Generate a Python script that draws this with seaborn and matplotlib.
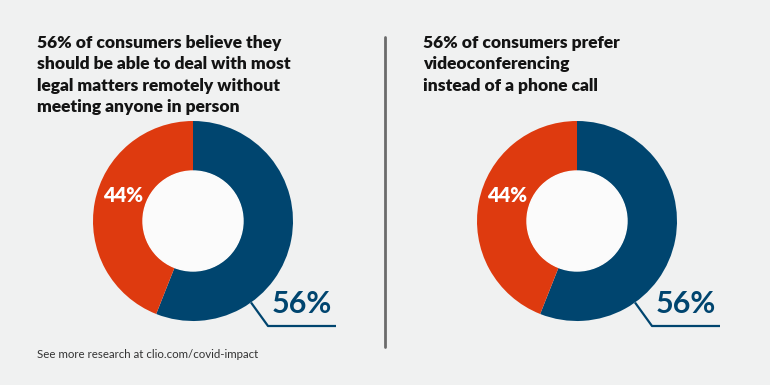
import matplotlib
matplotlib.use("Agg")
import matplotlib.pyplot as plt
import seaborn as sns
from matplotlib.patches import Circle

# survey shares (percent) for each donut
titles = [
    "56% of consumers believe they\nshould be able to deal with most\nlegal matters remotely without\nmeeting anyone in person",
    "56% of consumers prefer\nvideoconferencing\ninstead of a phone call",
]
share_yes = [56, 56]
share_no = [44, 44]
footer = "See more research at clio.com/covid-impact"

BG = "#f0f1f1"
BLUE = "#00456f"
ORANGE = "#de3a0f"

sns.set_theme(style="white")
plt.rcParams["font.family"] = ["Lato", "DejaVu Sans"]

fig = plt.figure(figsize=(7.7, 3.85), dpi=100, facecolor=BG)
W, H = 770, 385

centers = [(193, 221), (577, 221)]
title_x = [37, 423]
palette = sns.color_palette([BLUE, ORANGE])

for i, (cx, cy) in enumerate(centers):
    ax = fig.add_axes([(cx - 100) / W, (H - cy - 100) / H, 200 / W, 200 / H])
    ax.set_facecolor("none")
    ax.pie([share_yes[i], share_no[i]], colors=palette, startangle=90,
           counterclock=False, radius=1.0,
           wedgeprops=dict(width=0.5, linewidth=0))
    ax.add_patch(Circle((0, 0), 0.5, color="#fbfbfb", zorder=3))
    ax.set_xlim(-1, 1)
    ax.set_ylim(-1, 1)
    ax.set_aspect("equal")
    ax.axis("off")

    ax.text(-0.70, 0.26, f"{share_no[i]}%", color="white", fontsize=14.5,
            fontweight="heavy", ha="center", va="center")
    ax.plot([0.58, 0.75, 1.43], [-0.815, -1.05, -1.05], color=BLUE,
            lw=1.6, clip_on=False, solid_capstyle="butt")
    ax.text(1.09, -0.83, f"{share_yes[i]}%", color=BLUE, fontsize=22,
            fontweight="bold", ha="center", va="center", clip_on=False)

    fig.text(title_x[i] / W, 1 - 35 / H, titles[i], ha="left", va="top",
             fontsize=12.5, fontweight="heavy", color="#141414",
             linespacing=1.42)

# divider between the two panels
fig.add_artist(plt.Line2D([385 / W, 385 / W], [1 - 37 / H, 1 - 347 / H],
                          color="#6b6b6b", lw=2))

fig.text(37 / W, 1 - 354 / H, footer, ha="left", va="center",
         fontsize=8.3, color="#333333")

fig.savefig("out.png", dpi=100, facecolor=BG)
